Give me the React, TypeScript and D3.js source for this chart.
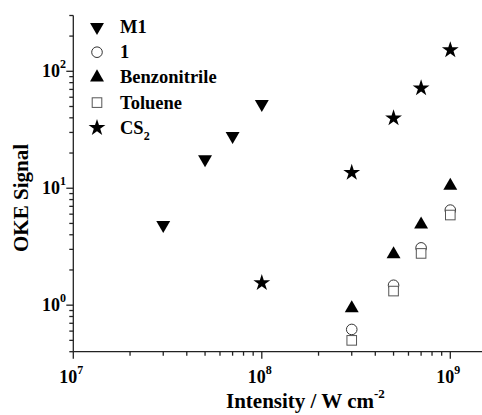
import React from 'react';
import * as d3 from 'd3';

// intensities (W cm^-2)
const m1X = [3e7, 5e7, 7e7, 1e8];
const m1Y = [4.85, 17.7, 28, 52.6];
const cs2X = [1e8, 3e8, 5e8, 7e8, 1e9];
const cs2Y = [1.55, 13.6, 39.7, 71.7, 152];
const solX = [3e8, 5e8, 7e8, 1e9];
const oneY = [0.62, 1.48, 3.09, 6.5];
const benzY = [0.94, 2.72, 4.9, 10.5];
const tolY = [0.5, 1.32, 2.77, 5.9];

const xTickExp = [7, 8, 9];
const yTickExp = [0, 1, 2];

const legendNames = ['M1', '1', 'Benzonitrile', 'Toluene', 'CS'];

const W = 482;
const H = 415;
const FONT = '"Liberation Serif", "Times New Roman", serif';

type Kind = 'down' | 'circle' | 'up' | 'square' | 'star';

const Marker: React.FC<{ kind: Kind; x: number; y: number }> = ({ kind, x, y }) => {
  if (kind === 'circle') {
    return <circle cx={x} cy={y} r={5.3} fill="white" stroke="#333" strokeWidth={1} />;
  }
  if (kind === 'square') {
    return <rect x={x - 4.8} y={y - 4.8} width={9.6} height={9.6} fill="white" stroke="#555" strokeWidth={1} />;
  }
  const type = kind === 'star' ? d3.symbolStar : d3.symbolTriangle;
  const size = kind === 'star' ? 88 : 84;
  const path = d3.symbol().type(type).size(size)() as string;
  const rot = kind === 'down' ? 180 : 0;
  return <path d={path} transform={`translate(${x},${y}) rotate(${rot})`} fill="black" />;
};

const App: React.FC = () => {
  const x = d3.scaleLog().domain([1e7, 1.5e9]).range([73.3, 73.3 + 188.5 * Math.log10(150)]);
  const y = d3.scaleLog().domain([0.4, 300]).range([351.7, 15.5]);

  const xTicks = x.ticks().filter(t => t <= 1.5e9);
  const yTicks = y.ticks().filter(t => t >= 0.4 && t <= 300);
  const isMajor = (t: number) => Math.abs(Math.log10(t) - Math.round(Math.log10(t))) < 1e-9;

  const series: { kind: Kind; xs: number[]; ys: number[] }[] = [
    { kind: 'down', xs: m1X, ys: m1Y },
    { kind: 'star', xs: cs2X, ys: cs2Y },
    { kind: 'up', xs: solX, ys: benzY },
    { kind: 'circle', xs: solX, ys: oneY },
    { kind: 'square', xs: solX, ys: tolY },
  ];
  const legendKinds: Kind[] = ['down', 'circle', 'up', 'square', 'star'];

  const [x0, x1] = x.range();
  const [y0, y1] = y.range();

  return (
    <div style={{ position: 'absolute', left: 0, top: 0 }}>
      <svg width={W} height={H} style={{ display: 'block', background: 'white' }} fontFamily={FONT}>
        {/* axes */}
        <line x1={x0} x2={x1} y1={y0} y2={y0} stroke="#222" strokeWidth={1.3} />
        <line x1={x0} x2={x0} y1={y0} y2={y1} stroke="#222" strokeWidth={1.3} />
        {xTicks.map(t => (
          <line key={`xt${t}`} x1={x(t)} x2={x(t)} y1={y0} y2={y0 + (isMajor(t) ? 7 : 4)} stroke="#222" strokeWidth={1.3} />
        ))}
        {yTicks.map(t => (
          <line key={`yt${t}`} x1={x0} x2={x0 - (isMajor(t) ? 7 : 4)} y1={y(t)} y2={y(t)} stroke="#222" strokeWidth={1.3} />
        ))}
        {xTickExp.map(e => (
          <text key={`xl${e}`} x={x(Math.pow(10, e)) - 2} y={383} textAnchor="middle" fontSize={18} fontWeight="bold">
            10<tspan fontSize={12} dy={-9}>{e}</tspan>
          </text>
        ))}
        {yTickExp.map(e => (
          <text key={`yl${e}`} x={66} y={y(Math.pow(10, e)) + 6} textAnchor="end" fontSize={18} fontWeight="bold">
            10<tspan fontSize={12} dy={-9}>{e}</tspan>
          </text>
        ))}
        {/* axis titles */}
        <text x={226} y={408} fontSize={21} fontWeight="bold">
          Intensity / W cm<tspan fontSize={13} dy={-10}>-2</tspan>
        </text>
        <text transform="translate(28,198) rotate(-90)" textAnchor="middle" fontSize={21} fontWeight="bold">
          OKE Signal
        </text>
        {/* data */}
        {series.map(s =>
          s.xs.map((xv, i) => <Marker key={`${s.kind}${i}`} kind={s.kind} x={x(xv)} y={y(s.ys[i])} />)
        )}
        {/* legend */}
        {legendNames.map((name, i) => {
          const cy = 27 + i * 25.2;
          return (
            <g key={name}>
              <Marker kind={legendKinds[i]} x={97} y={cy} />
              <text x={120} y={cy + 6} fontSize={18.5} fontWeight="bold">
                {name}
                {name === 'CS' && <tspan fontSize={12} dy={6}>2</tspan>}
              </text>
            </g>
          );
        })}
      </svg>
    </div>
  );
};

export default App;
